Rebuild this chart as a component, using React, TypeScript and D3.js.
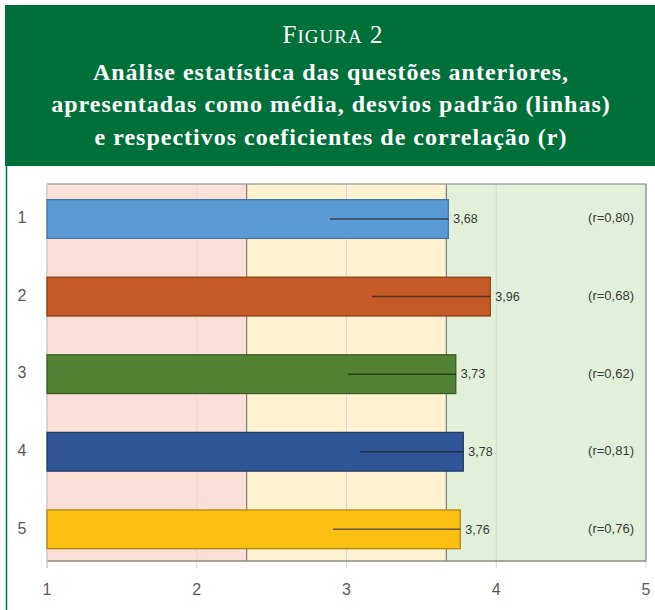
import React from 'react'
import { scaleLinear, scaleBand } from 'd3'

// data
const questions = ['1', '2', '3', '4', '5']
const means = [3.68, 3.96, 3.73, 3.78, 3.76]
const deviations = [0.79, 0.79, 0.72, 0.69, 0.85]
const correlations = ['0,80', '0,68', '0,62', '0,81', '0,76']
const xTicks = [1, 2, 3, 4, 5]
const zoneBounds = [1, 2.333, 3.667, 5]

const barFills = ['#5b9bd5', '#c55a28', '#548235', '#2f5597', '#fbbf12']
const barStrokes = ['#41719c', '#843c0c', '#385723', '#1f3864', '#a88414']
const zoneFills = ['#fce0d8', '#fef2d0', '#e2efd9']

const WIDTH = 655
const HEIGHT = 610
const GREEN = '#00703a'
const sans = "'Liberation Sans', Arial, sans-serif"
const serif = "'Liberation Serif', 'Times New Roman', serif"

const App = () => {
    const plot = { left: 47, right: 646, top: 184, bottom: 561 }

    const xScale = scaleLinear()
        .domain([1, 5])
        .range([plot.left, plot.right])

    const yScale = scaleBand()
        .domain(questions)
        .range([plot.top, plot.bottom])
        .paddingInner(0.5)
        .paddingOuter(0.18)
        .align(0.56)

    const bw = yScale.bandwidth()
    const fmt = (v) => v.toFixed(2).replace('.', ',')

    return (
        <svg width={WIDTH} height={HEIGHT}
            style={{ position: 'absolute', left: 0, top: 0, background: 'white' }}>
            {/* header */}
            <rect x={5} y={5} width={WIDTH - 5} height={161} fill={GREEN} />
            <line x1={6.5} x2={6.5} y1={166} y2={HEIGHT} stroke={GREEN} strokeWidth={1.5} />
            <g fill="white" fontFamily={serif} textAnchor="middle">
                <text x={333} y={43} fontSize={25} letterSpacing={1}>
                    <tspan>F</tspan><tspan fontSize={19}>IGURA</tspan><tspan> 2</tspan>
                </text>
                <g fontSize={24} fontWeight="bold" letterSpacing={1}>
                    <text x={331} y={80}>Análise estatística das questões anteriores,</text>
                    <text x={331} y={112}>apresentadas como média, desvios padrão (linhas)</text>
                    <text x={331} y={145}>e respectivos coeficientes de correlação (r)</text>
                </g>
            </g>

            {/* background zones */}
            {zoneFills.map((c, i) => (
                <rect key={'z' + i}
                    x={xScale(zoneBounds[i])} y={plot.top}
                    width={xScale(zoneBounds[i + 1]) - xScale(zoneBounds[i])}
                    height={plot.bottom - plot.top} fill={c} />
            ))}

            {/* gridlines + tick stubs */}
            {xTicks.map(t => (
                <line key={'g' + t} x1={xScale(t)} x2={xScale(t)} y1={plot.top} y2={plot.bottom + 7}
                    stroke="#d9d9d9" strokeWidth={1} />
            ))}
            {zoneBounds.slice(1, 3).map(b => (
                <line key={'b' + b} x1={xScale(b)} x2={xScale(b)} y1={plot.top} y2={plot.bottom}
                    stroke="#8a8378" strokeWidth={1.3} />
            ))}
            <line x1={plot.left} x2={plot.right} y1={plot.top} y2={plot.top} stroke="#a6a6a6" strokeWidth={1.5} />
            <line x1={plot.left} x2={plot.right} y1={plot.bottom} y2={plot.bottom} stroke="#8c8a85" strokeWidth={1.5} />
            <line x1={plot.right} x2={plot.right} y1={plot.top} y2={plot.bottom} stroke="#9a9a9a" strokeWidth={1.5} />
            <line x1={plot.left} x2={plot.left} y1={plot.top} y2={plot.bottom + 7} stroke="#c8c8c8" strokeWidth={1.2} />

            {/* bars, deviation lines, labels */}
            {questions.map((q, i) => {
                const y = yScale(q)
                const cy = y + bw / 2
                return (
                    <g key={q}>
                        <rect x={xScale(1)} y={y} width={xScale(means[i]) - xScale(1)} height={bw}
                            fill={barFills[i]} stroke={barStrokes[i]} strokeWidth={1.2} />
                        <line x1={xScale(means[i] - deviations[i])} x2={xScale(means[i])} y1={cy} y2={cy}
                            stroke="#1a1a1a" strokeOpacity={0.65} strokeWidth={1.5} />
                        <text x={xScale(means[i]) + 5} y={cy + 1} dominantBaseline="middle"
                            fontFamily={sans} fontSize={12.5} fill="#3a3a3a">{fmt(means[i])}</text>
                        <text x={634} y={cy} dominantBaseline="middle" textAnchor="end"
                            fontFamily={sans} fontSize={13} fill="#3a3a3a">{'(r=' + correlations[i] + ')'}</text>
                        <text x={22} y={cy} dominantBaseline="middle" textAnchor="middle"
                            fontFamily={sans} fontSize={16} fill="#595959">{q}</text>
                    </g>
                )
            })}

            {/* x axis labels */}
            {xTicks.map(t => (
                <text key={'t' + t} x={xScale(t)} y={591} dominantBaseline="middle" textAnchor="middle"
                    fontFamily={sans} fontSize={16} fill="#595959">{t}</text>
            ))}
        </svg>
    )
}

export default App
